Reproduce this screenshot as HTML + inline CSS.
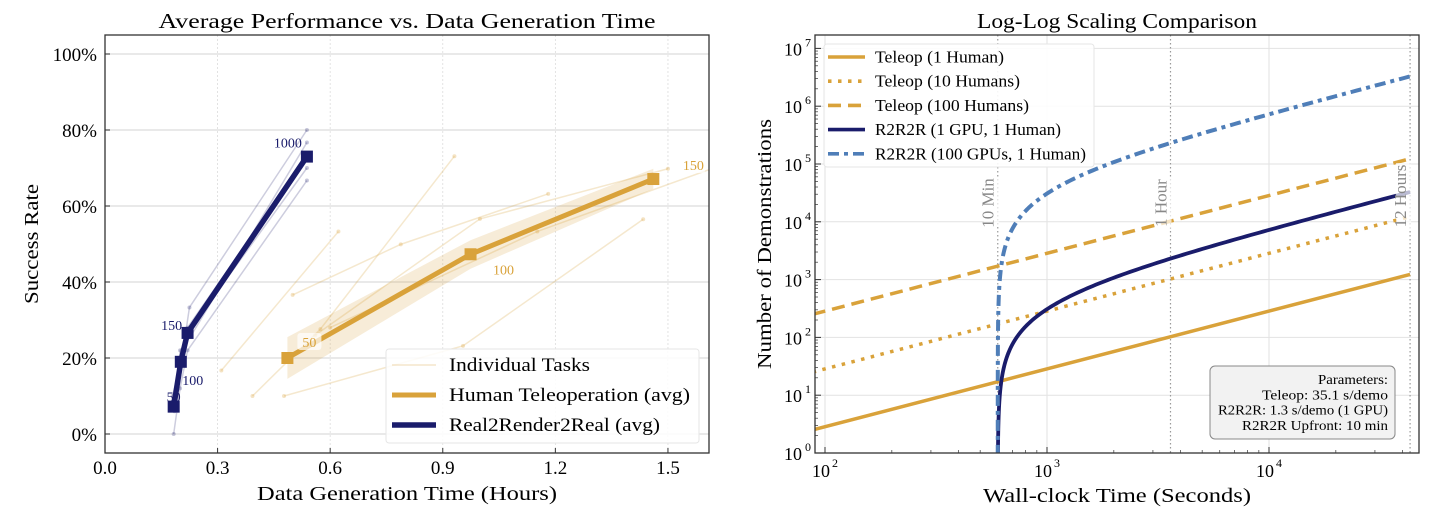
<!DOCTYPE html>
<html><head><meta charset="utf-8"><style>
html,body{margin:0;padding:0;background:#fff;}
svg{display:block;font-family:"Liberation Serif","DejaVu Serif",serif;}
</style></head><body>
<svg id="c" width="1440" height="527" viewBox="0 0 1440 527">
<defs>
<clipPath id="clipL"><rect x="105" y="35" width="604" height="418"/></clipPath>
<clipPath id="clipR"><rect x="815" y="35" width="604" height="418"/></clipPath>
</defs>
<g id="left"></g>
<g id="right"></g>
</svg>
<script>
// ---------- LEFT CHART DATA ----------
const leftXTicks = [0.0, 0.3, 0.6, 0.9, 1.2, 1.5];
const leftXTickLabels = ["0.0","0.3","0.6","0.9","1.2","1.5"];
const leftYTicks = [0, 20, 40, 60, 80, 100];
const leftYTickLabels = ["0%","20%","40%","60%","80%","100%"];
const teleopHours = [0.486, 0.974, 1.461];
const teleopSuccess = [20.0, 47.3, 67.1];
const teleopBandLow = [14.5, 43.5, 64.5];
const teleopBandHigh = [25.5, 51.0, 69.8];
const teleopLabels = ["50","100","150"];
const r2rHours = [0.183, 0.202, 0.220, 0.538];
const r2rSuccess = [7.2, 19.0, 26.6, 73.0];
const r2rLabels = ["50","100","150","1000"];
const teleopTasks = [
  [[0.31,16.7],[0.622,53.3]],
  [[0.393,10],[0.574,27.6],[0.931,73.1]],
  [[0.477,10],[0.954,23.2],[1.434,56.5]],
  [[0.50,36.6],[0.788,49.9],[1.181,63.2]],
  [[0.56,26.0],[0.999,56.6],[1.50,69.8]],
  [[0.60,28.0],[1.152,53.3],[1.65,71.0]]
];
const r2rTasks = [
  [[0.183,0],[0.20,12],[0.22,22],[0.538,66.7]],
  [[0.19,8],[0.205,20],[0.225,33.3],[0.538,80]],
  [[0.185,6],[0.20,18],[0.215,26],[0.538,70]],
  [[0.18,10],[0.21,22],[0.22,28],[0.538,73]],
  [[0.19,8],[0.20,22],[0.23,26],[0.538,76.7]]
];
// ---------- RIGHT CHART DATA ----------
const rightXTickExps = [2, 3, 4];
const rightYTickExps = [0,1,2,3,4,5,6,7];
const teleopSecPerDemo = 35.1;
const teleopHumans = [1, 10, 100];
const teleopNames = ["Teleop (1 Human)","Teleop (10 Humans)","Teleop (100 Humans)"];
const r2rSecPerDemo = 1.3;
const r2rGpus = [1, 100];
const r2rNames = ["R2R2R (1 GPU, 1 Human)","R2R2R (100 GPUs, 1 Human)"];
const r2rUpfront = 600;
const timeMarkers = [600, 3600, 43200];
const timeMarkerLabels = ["10 Min","1 Hour","12 Hours"];
const timeRange = [88, 43200];

const NS="http://www.w3.org/2000/svg";
function mk(parent, tag, attrs, name, inter){
  const e=document.createElementNS(NS,tag);
  for(const k in attrs) e.setAttribute(k,attrs[k]);
  
  
  parent.appendChild(e); return e;
}
const GOLD="#D9A23A", NAVY="#1A1C6B", BLUE="#4F7EB8";

// ===== LEFT =====
const L=document.getElementById('left');
const lx=v=>105+v*375.3, ly=v=>434-v*3.8;
mk(L,'text',{x:407,y:28,'text-anchor':'middle','font-size':21,textLength:497,lengthAdjust:'spacingAndGlyphs'},'left-title').textContent="Average Performance vs. Data Generation Time";
leftYTicks.forEach((t,i)=>{
  mk(L,'line',{x1:105,x2:709,y1:ly(t),y2:ly(t),stroke:'#e2e2e2','stroke-width':1.6},'y-gridline');
  mk(L,'line',{x1:105,x2:110,y1:ly(t),y2:ly(t),stroke:'#333'},'y-tick');
  mk(L,'text',{x:97,y:ly(t)+7,'text-anchor':'end','font-size':19},'y-tick-label').textContent=leftYTickLabels[i];
});
leftXTicks.forEach((t,i)=>{
  mk(L,'line',{x1:lx(t),x2:lx(t),y1:35,y2:453,stroke:'#dcdcdc','stroke-width':0.8,'stroke-dasharray':'2,2'},'x-gridline');
  mk(L,'line',{x1:lx(t),x2:lx(t),y1:448,y2:453,stroke:'#333'},'x-tick');
  mk(L,'text',{x:lx(t),y:474,'text-anchor':'middle','font-size':19},'x-tick-label').textContent=leftXTickLabels[i];
});
mk(L,'text',{x:407,y:500,'text-anchor':'middle','font-size':20,textLength:300,lengthAdjust:'spacingAndGlyphs'},'x-axis-title').textContent="Data Generation Time (Hours)";
mk(L,'text',{x:0,y:0,'text-anchor':'middle','font-size':20,transform:'translate(38,244) rotate(-90)',textLength:120,lengthAdjust:'spacingAndGlyphs'},'y-axis-title').textContent="Success Rate";
const LP=mk(L,'g',{'clip-path':'url(#clipL)'},'plot-area');
teleopTasks.forEach(tk=>{
  mk(LP,'polyline',{points:tk.map(p=>lx(p[0])+','+ly(p[1])).join(' '),fill:'none',stroke:GOLD,'stroke-opacity':0.25,'stroke-width':1.5},'teleop-task-line');
  tk.forEach(p=>mk(LP,'circle',{cx:lx(p[0]),cy:ly(p[1]),r:2,fill:GOLD,'fill-opacity':0.3},'teleop-task-point'));
});
r2rTasks.forEach(tk=>{
  mk(LP,'polyline',{points:tk.map(p=>lx(p[0])+','+ly(p[1])).join(' '),fill:'none',stroke:NAVY,'stroke-opacity':0.22,'stroke-width':1.5},'r2r-task-line');
  tk.forEach(p=>mk(LP,'circle',{cx:lx(p[0]),cy:ly(p[1]),r:2,fill:NAVY,'fill-opacity':0.25},'r2r-task-point'));
});
let band=teleopHours.map((h,i)=>lx(h)+','+ly(teleopBandHigh[i]));
band=band.concat(teleopHours.map((h,i)=>lx(h)+','+ly(teleopBandLow[i])).reverse());
mk(LP,'polygon',{points:band.join(' '),fill:GOLD,'fill-opacity':0.2},'teleop-band');
mk(LP,'polyline',{points:teleopHours.map((h,i)=>lx(h)+','+ly(teleopSuccess[i])).join(' '),fill:'none',stroke:GOLD,'stroke-width':5},'teleop-avg-line');
teleopHours.forEach((h,i)=>mk(LP,'rect',{x:lx(h)-6,y:ly(teleopSuccess[i])-6,width:12,height:12,fill:GOLD},'teleop-avg-marker'));
mk(LP,'polyline',{points:r2rHours.map((h,i)=>lx(h)+','+ly(r2rSuccess[i])).join(' '),fill:'none',stroke:NAVY,'stroke-width':5.5},'r2r-avg-line');
r2rHours.forEach((h,i)=>mk(LP,'rect',{x:lx(h)-6,y:ly(r2rSuccess[i])-6,width:12,height:12,fill:NAVY},'r2r-avg-marker'));
const tOff=[[22,-16],[33,15],[40,-14]];
teleopHours.forEach((h,i)=>{
  const x=lx(h)+tOff[i][0], y=ly(teleopSuccess[i])+tOff[i][1];
  mk(L,'rect',{x:x-12,y:y-9,width:24,height:17,rx:3,fill:'#fff','fill-opacity':0.7},'teleop-label-bg');
  mk(L,'text',{x:x,y:y+5,'text-anchor':'middle','font-size':14,fill:GOLD},'teleop-point-label').textContent=teleopLabels[i];});
const rOff=[[0,-10],[12,18],[-16,-8],[-19,-14]];
r2rHours.forEach((h,i)=>mk(L,'text',{x:lx(h)+rOff[i][0],y:ly(r2rSuccess[i])+rOff[i][1]+5,'text-anchor':'middle','font-size':14,fill:NAVY},'r2r-point-label').textContent=r2rLabels[i]);
mk(L,'rect',{x:105,y:35,width:604,height:418,fill:'none',stroke:'#333','stroke-width':1.3},'plot-frame');
const LG=mk(L,'g',{},'legend');
mk(LG,'rect',{x:386,y:349,width:313,height:94,rx:3,fill:'#fff','fill-opacity':0.85,stroke:'#e6e6e6'},'legend-box');
const lgItems=[["Individual Tasks",GOLD,0.2,2,141],["Human Teleoperation (avg)",GOLD,1,5,241],["Real2Render2Real (avg)",NAVY,1,5.5,211]];
lgItems.forEach((it,i)=>{const y=365+i*30;
  mk(LG,'line',{x1:392,x2:436,y1:y,y2:y,stroke:it[1],'stroke-opacity':it[2],'stroke-width':it[3]},'legend-swatch');
  mk(LG,'text',{x:449,y:y+6,'font-size':19,textLength:it[4],lengthAdjust:'spacingAndGlyphs'},'legend-entry').textContent=it[0];});

// ===== RIGHT =====
const lmax=4.676;
const rx=v=>825+(Math.log10(v)-2)*222, ry=v=>453-Math.log10(v)*57.8;
const R=document.getElementById('right');
mk(R,'text',{x:1117,y:28,'text-anchor':'middle','font-size':21,textLength:280,lengthAdjust:'spacingAndGlyphs'},'right-title').textContent="Log-Log Scaling Comparison";
rightYTickExps.forEach(e=>{const y=ry(Math.pow(10,e));
  if(e>0) mk(R,'line',{x1:815,x2:1419,y1:y,y2:y,stroke:'#e2e2e2','stroke-width':1},'y-gridline');
  mk(R,'line',{x1:815,x2:821,y1:y,y2:y,stroke:'#333'},'y-tick');
  for(let m=2;m<10&&e<7;m++){const yy=ry(m*Math.pow(10,e));mk(R,'line',{x1:815,x2:818,y1:yy,y2:yy,stroke:'#333','stroke-width':0.7},'y-minor-tick');}
  mk(R,'text',{x:802,y:y+7,'text-anchor':'end','font-size':18},'y-tick-label').textContent='10';
  mk(R,'text',{x:811,y:y-2,'text-anchor':'end','font-size':12},'y-tick-exponent').textContent=String(e);});
rightXTickExps.forEach(e=>{const x=rx(Math.pow(10,e));
  mk(R,'line',{x1:x,x2:x,y1:35,y2:453,stroke:'#e2e2e2','stroke-width':1},'x-gridline');
  mk(R,'line',{x1:x,x2:x,y1:447,y2:453,stroke:'#333'},'x-tick');
  mk(R,'text',{x:x-4,y:477,'text-anchor':'middle','font-size':18},'x-tick-label').textContent='10';
  mk(R,'text',{x:x+10,y:467,'text-anchor':'middle','font-size':12},'x-tick-exponent').textContent=String(e);});
for(let e=1;e<=4;e++)for(let m=2;m<10;m++){const v=m*Math.pow(10,e);if(Math.log10(v)<1.955||Math.log10(v)>lmax)continue;const x=rx(v);
  mk(R,'line',{x1:x,x2:x,y1:450,y2:453,stroke:'#333','stroke-width':0.7},'x-minor-tick');}
mk(R,'text',{x:1117,y:502,'text-anchor':'middle','font-size':20,textLength:268,lengthAdjust:'spacingAndGlyphs'},'x-axis-title').textContent="Wall-clock Time (Seconds)";
mk(R,'text',{x:0,y:0,'text-anchor':'middle','font-size':20,transform:'translate(771,244) rotate(-90)',textLength:250,lengthAdjust:'spacingAndGlyphs'},'y-axis-title').textContent="Number of Demonstrations";
const RP=mk(R,'g',{'clip-path':'url(#clipR)'},'plot-area');
timeMarkers.forEach((t,i)=>{const x=rx(t);
  mk(RP,'line',{x1:x,x2:x,y1:35,y2:453,stroke:'#999','stroke-width':1.2,'stroke-dasharray':'1.5,2.5'},'time-marker-line');});
const teleDash=['none','3.5,6.5','13,7'];
teleopHumans.forEach((h,i)=>{
  const pts=[timeRange[0],timeRange[1]].map(t=>rx(t)+','+ry(t*h/teleopSecPerDemo));
  mk(RP,'polyline',{points:pts.join(' '),fill:'none',stroke:GOLD,'stroke-width':3.5,'stroke-dasharray':teleDash[i]},'teleop-line-'+h);
});
const r2rDash=['none','11,5,4,5'];
const r2rCol=[NAVY,BLUE];
r2rGpus.forEach((g,i)=>{
  const pts=[];const rate=r2rSecPerDemo/g;
  for(let k=Math.log10(rate)-0.05;k<=Math.log10(timeRange[1]-r2rUpfront);k+=0.02){
    const dt=Math.pow(10,k);const n=Math.max(dt/rate,0.5);pts.push(rx(r2rUpfront+dt)+','+ry(n));}
  pts.push(rx(timeRange[1])+','+ry((timeRange[1]-r2rUpfront)/rate));
  mk(RP,'polyline',{points:pts.join(' '),fill:'none',stroke:r2rCol[i],'stroke-width':i?4:3.8,'stroke-dasharray':r2rDash[i]},'r2r-line-'+g);
});
timeMarkers.forEach((t,i)=>{const x=rx(t)-9;const cy=i==2?196:203;
  const w=i==2?66:(i==1?50:48);
  mk(R,'rect',{x:x-5,y:cy-w/2,width:15,height:w,fill:'#fff','fill-opacity':0.7},'time-marker-label-bg');
  mk(R,'text',{x:0,y:0,'text-anchor':'middle','font-size':17,fill:'#888',transform:`translate(${x+5},${cy}) rotate(-90)`},'time-marker-label').textContent=timeMarkerLabels[i];});
mk(R,'rect',{x:815,y:35,width:604,height:418,fill:'none',stroke:'#333','stroke-width':1.3},'plot-frame');
const RG=mk(R,'g',{},'legend');
mk(RG,'rect',{x:824,y:44,width:270,height:123,rx:3,fill:'#fff','fill-opacity':0.9,stroke:'#e6e6e6'},'legend-box');
const rgItems=[[teleopNames[0],GOLD,'none',129],[teleopNames[1],GOLD,'3.5,6.5',145],[teleopNames[2],GOLD,'13,7',154],[r2rNames[0],NAVY,'none',186],[r2rNames[1],BLUE,'11,5,4,5',211]];
rgItems.forEach((it,i)=>{const y=57+i*24.2;
  mk(RG,'line',{x1:828,x2:865,y1:y,y2:y,stroke:it[1],'stroke-width':3.6,'stroke-dasharray':it[2]},'legend-swatch');
  mk(RG,'text',{x:875,y:y+5.5,'font-size':16.5,textLength:it[3],lengthAdjust:'spacingAndGlyphs'},'legend-entry').textContent=it[0];});
const PB=mk(R,'g',{},'parameters-box');
mk(PB,'rect',{x:1210,y:366,width:185,height:73,rx:5,fill:'#f2f2f2',stroke:'#888','stroke-width':1},'parameters-box-bg');
const pTexts=["Parameters:","Teleop: 35.1 s/demo","R2R2R: 1.3 s/demo (1 GPU)","R2R2R Upfront: 10 min"];
const pLens=[70,126,170,146];
pTexts.forEach((s,i)=>
  mk(PB,'text',{x:1388,y:384+i*15.3,'text-anchor':'end','font-size':14,textLength:pLens[i],lengthAdjust:'spacingAndGlyphs'},'parameters-text').textContent=s);
</script>
</body></html>
